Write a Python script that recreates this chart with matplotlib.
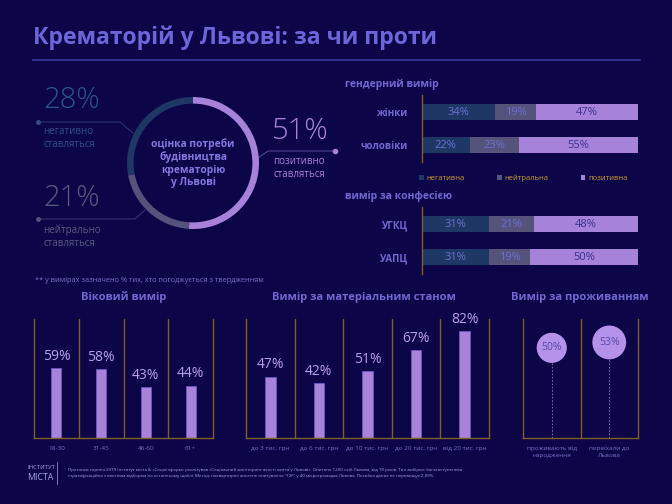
import matplotlib
matplotlib.use("Agg")
import matplotlib.pyplot as plt
import numpy as np

plt.rcParams['font.family'] = ['Open Sans', 'DejaVu Sans']

# ---------------- data ----------------
overall_labels = ['позитивно\nставляться', 'нейтрально\nставляться', 'негативно\nставляться']
overall_vals = [51, 21, 28]

seg_names = ['негативна', 'нейтральна', 'позитивна']
gender_cats = ['жінки', 'чоловіки']
gender_neg = [34, 22]
gender_neu = [19, 23]
gender_pos = [47, 55]

conf_cats = ['УГКЦ', 'УАПЦ']
conf_neg = [31, 31]
conf_neu = [21, 19]
conf_pos = [48, 50]

age_cats = ['18-30', '31-45', '46-60', '61+']
age_vals = [59, 58, 43, 44]

income_cats = ['до 3 тис. грн', 'до 6 тис. грн', 'до 10 тис. грн', 'до 20 тис. грн', 'від 20 тис. грн']
income_vals = [47, 42, 51, 67, 82]

res_cats = ['проживають від\nнародження', 'переїхали до\nЛьвова']
res_vals = [50, 53]

# ---------------- style ----------------
W, H = 672, 504
BG = '#0c0548'
C_NEG = '#1f3764'
C_NEU = '#55527c'
C_POS = '#a683d9'
TITLE_C = '#6c66d8'
HEAD_C = '#7068d0'
GOLD = '#7e6020'
TXT_DIM = '#7a70c4'

fig = plt.figure(figsize=(W / 100, H / 100), dpi=100, facecolor=BG)


def box(x0, y0, x1, y1):
    return [x0 / W, 1 - y1 / H, (x1 - x0) / W, (y1 - y0) / H]


ov = fig.add_axes([0, 0, 1, 1], facecolor='none')
ov.set_xlim(0, W)
ov.set_ylim(H, 0)
ov.axis('off')

# title
ov.text(33, 38, 'Крематорій у Львові: за чи проти', fontsize=16.6, fontweight='bold',
        color=TITLE_C, va='center', ha='left')
ov.plot([33, 640], [60, 60], color='#3c389e', lw=1.2)

# ---------------- donut ----------------
axd = fig.add_axes(box(127, 97, 259, 229), facecolor='none')
axd.pie(overall_vals, colors=[C_POS, C_NEU, C_NEG], startangle=90, counterclock=False,
        radius=1.0, wedgeprops=dict(width=0.1, edgecolor='none'))
axd.set_xlim(-1, 1)
axd.set_ylim(-1, 1)
axd.text(0, 0, 'оцінка потреби\nбудівництва\nкрематорію\nу Львові', ha='center', va='center',
         fontsize=7.4, fontweight='bold', color='#8278e0', linespacing=1.15)

# donut annotations
big_c = ['#a783d8', '#5b587f', '#30538a']
# negative
ov.text(43, 100, f'{overall_vals[2]}%', fontsize=21, color=big_c[2], va='center', ha='left', fontweight='light')
ov.text(43, 138, overall_labels[2], fontsize=7, color=big_c[2], va='center', ha='left', linespacing=1.25)
ov.plot([38, 120, 133], [122, 122, 133], color='#2a3a72', lw=0.7)
ov.plot([38], [122], 'o', ms=2.5, color='#3a4a80')
# neutral
ov.text(43, 198, f'{overall_vals[1]}%', fontsize=21, color=big_c[1], va='center', ha='left', fontweight='light')
ov.text(43, 237, overall_labels[1], fontsize=7, color=big_c[1], va='center', ha='left', linespacing=1.25)
ov.plot([38, 135, 145], [219, 219, 210], color='#3e3c6e', lw=0.7)
ov.plot([38], [219], 'o', ms=2.5, color='#55527c')
# positive
ov.text(272, 131, f'{overall_vals[0]}%', fontsize=21, color=big_c[0], va='center', ha='left', fontweight='light')
ov.text(273, 168, overall_labels[0], fontsize=7, color=big_c[0], va='center', ha='left', linespacing=1.25)
ov.plot([258, 268, 335], [158, 151, 151], color='#5a4c9a', lw=0.7)
ov.plot([335], [151], 'o', ms=3, color='#a683d9')

# ---------------- stacked bars ----------------
ov.text(345, 84, 'гендерний вимір', fontsize=7.5, fontweight='bold', color=HEAD_C, va='center')
ov.text(345, 196, 'вимір за конфесією', fontsize=7.5, fontweight='bold', color=HEAD_C, va='center')


def stacked(bx, cats, neg, neu, pos, legend=False):
    ax = fig.add_axes(bx, facecolor='none')
    y = np.arange(len(cats))
    data = [np.array(neg), np.array(neu), np.array(pos)]
    cols = [C_NEG, C_NEU, C_POS]
    lab_c = ['#6c70d4', '#6c70d4', '#3d3090']
    left = np.zeros(len(cats))
    for d, c, lc, nm in zip(data, cols, lab_c, seg_names):
        bars = ax.barh(y, d, left=left, color=c, height=0.48, label=nm, edgecolor='none')
        for b, v in zip(bars, d):
            ax.text(b.get_x() + b.get_width() / 2, b.get_y() + b.get_height() / 2, f'{v}%',
                    ha='center', va='center', fontsize=8, color=lc)
        left = left + d
    ax.set_xlim(0, 100)
    ax.set_ylim(len(cats) - 0.5, -0.52)
    ax.set_yticks(y)
    ax.set_yticklabels(cats, fontsize=7, fontweight='bold', color=HEAD_C)
    ax.tick_params(axis='y', length=0, pad=10)
    ax.set_xticks([])
    for s in ['top', 'right', 'bottom']:
        ax.spines[s].set_visible(False)
    ax.spines['left'].set_color(GOLD)
    ax.spines['left'].set_linewidth(1)
    if legend:
        ax.legend(loc='center', bbox_to_anchor=(0.47, -0.24), ncol=3, frameon=False,
                  fontsize=5.5, handlelength=0.6, handleheight=0.6, handletextpad=0.4,
                  columnspacing=4.2, labelcolor='#c89a30')
    return ax


stacked(box(422, 95, 638, 162), gender_cats, gender_neg, gender_neu, gender_pos, legend=True)
stacked(box(422, 207, 638, 274), conf_cats, conf_neg, conf_neu, conf_pos)

# footnote
ov.text(35, 280, '** у вимірах зазначено % тих, хто погоджується з твердженням', fontsize=5.3,
        color=TXT_DIM, va='center', ha='left')


# ---------------- column charts ----------------
def columns(bx, cats, vals, ymax, title, tx):
    ax = fig.add_axes(bx, facecolor='none')
    x = np.arange(len(cats))
    bars = ax.bar(x, vals, width=0.22, color=C_POS, edgecolor='#6f56c0', linewidth=0.6)
    for b, v in zip(bars, vals):
        ax.annotate(f'{v}%', (b.get_x() + b.get_width() / 2, b.get_height()), xytext=(0, 3),
                    textcoords='offset points', ha='center', va='bottom', fontsize=10,
                    color='#b9a0ee')
    ax.set_xlim(-0.5, len(cats) - 0.5)
    ax.set_ylim(0, ymax)
    for d in np.arange(0.5, len(cats) - 0.5, 1):
        ax.axvline(d, color=GOLD, lw=1)
    for s in ['left', 'right', 'bottom']:
        ax.spines[s].set_color(GOLD)
        ax.spines[s].set_linewidth(1)
    ax.spines['top'].set_visible(False)
    ax.set_yticks([])
    ax.set_xticks(x)
    ax.set_xticklabels(cats, fontsize=4.6, color=TXT_DIM)
    ax.tick_params(axis='x', length=0, pad=6)
    ov.text(tx, 297, title, fontsize=8, fontweight='bold', color=HEAD_C, ha='center', va='center')
    return ax


columns(box(34, 319, 213, 438), age_cats, age_vals, 100, 'Віковий вимір', 124)
columns(box(246, 319, 489, 438), income_cats, income_vals, 91, 'Вимір за матеріальним станом', 364)

# ---------------- bubbles ----------------
axr = fig.add_axes(box(523, 319, 638, 438), facecolor='none')
xr = np.arange(len(res_cats))
rv = np.array(res_vals, dtype=float)
axr.vlines(xr, 0, rv, color='#8a78c8', lw=0.6, linestyles=(0, (2, 2)), zorder=1)
axr.scatter(xr, rv, s=470 * (rv / 50) ** 4, color='#b592ea', edgecolor='none', zorder=3)
for xi, v in zip(xr, res_vals):
    axr.text(xi, v, f'{v}%', ha='center', va='center', fontsize=7.5, color='#5a48a8', zorder=4)
axr.set_xlim(-0.5, len(res_cats) - 0.5)
axr.set_ylim(0, 66)
for d in np.arange(0.5, len(res_cats) - 0.5, 1):
    axr.axvline(d, color=GOLD, lw=1)
for s in ['left', 'right', 'bottom']:
    axr.spines[s].set_color(GOLD)
    axr.spines[s].set_linewidth(1)
axr.spines['top'].set_visible(False)
axr.set_yticks([])
axr.set_xticks(xr)
axr.set_xticklabels(res_cats, fontsize=4.6, color=TXT_DIM, linespacing=1.5)
axr.tick_params(axis='x', length=0, pad=6)
ov.text(580, 297, 'Вимір за проживанням', fontsize=8, fontweight='bold', color=HEAD_C,
        ha='center', va='center')

# ---------------- footer ----------------
ov.text(27, 467.5, 'ІНСТИТУТ', fontsize=4.2, color='#a9a2dc', va='center', ha='left')
ov.text(27, 478, 'МІСТА', fontsize=6.3, color='#a9a2dc', va='center', ha='left')
ov.plot([57, 57], [462, 484], color='#a9a2dc', lw=0.5)
foot = ('Протягом серпня 2019 Інститут міста & «Соціоінформ» реалізував «Соціальний моніторинг якості життя у Львові». '
        'Опитано 1200 осіб Львова, від 18 років. Тип вибірки: багатоступенева\n'
        'стратифікаційна з квотним відбором на останньому щаблі. Метод: поквартирне анкетне опитування "F2F" '
        'у 40 мікрогромадах Львова. Похибка даних не перевищує 2,89%.')
ov.text(68, 473, foot, fontsize=3.2, color='#a9a2dc', va='center', ha='left', linespacing=1.9)

fig.savefig('out.png', dpi=100, facecolor=BG)
